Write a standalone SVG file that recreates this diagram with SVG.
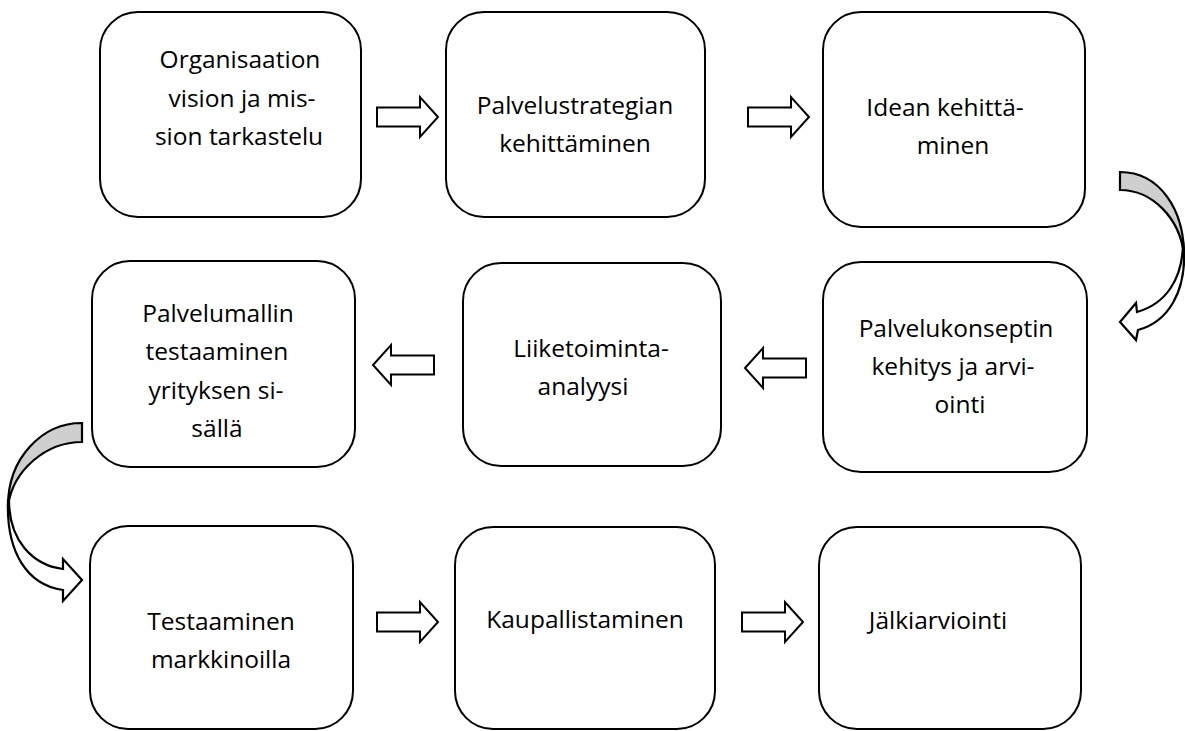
<svg xmlns="http://www.w3.org/2000/svg" xmlns:xlink="http://www.w3.org/1999/xlink" width="1185" height="731" viewBox="0 0 1185 731">
<style>
.box{fill:#fff;stroke:#000;stroke-width:2}
.t{font-family:"Open Sans","Liberation Sans",sans-serif;font-size:24.5px;fill:#000;text-anchor:middle}
.arr{fill:#fff;stroke:#000;stroke-width:2;stroke-linejoin:miter}
.cw{fill:#fff;stroke:#000;stroke-width:2.2;stroke-linejoin:miter}
.cg{fill:#cfcfcf;stroke:#000;stroke-width:2.2;stroke-linejoin:miter}
</style>
<defs>
<path id="ba" d="M0,-9.5 H43 V-20 L61,0 L43,20 V9.5 H0 Z"/>
</defs>
<rect width="1185" height="731" fill="#fff"/>
<g id="connectors">
<use xlink:href="#ba" class="arr" transform="translate(377,117)"/>
<use xlink:href="#ba" class="arr" transform="translate(748,117)"/>
<use xlink:href="#ba" class="arr" transform="translate(434,365) scale(-1,1)"/>
<use xlink:href="#ba" class="arr" transform="translate(806,368) scale(-1,1)"/>
<use xlink:href="#ba" class="arr" transform="translate(377,622)"/>
<use xlink:href="#ba" class="arr" transform="translate(742,622)"/>
<g id="curve-right">
<path class="cg" d="M1120,172 C1160,172 1184,210 1184,255 C1180,218 1152,190 1120,190 Z"/>
<path class="cw" d="M1183,242 C1183,280 1165,304 1137,312 L1136,303 L1120,322 L1136,340 L1138,330 C1168,322 1186,292 1184,250 Z"/>
</g>
<g id="curve-left">
<path class="cg" d="M82,423 C42,423 8,458 8,506 C13,470 46,442 82,442 Z"/>
<path class="cw" d="M9,500 C9,540 32,565 63,569 L63,559 L82,580 L63,601 L63,590 C27,585 6,552 8,500 Z"/>
</g>
</g>
<g id="n1"><rect class="box" x="100" y="12" width="261" height="205" rx="38"/>
<text class="t" x="240" y="68">Organisaation</text><text class="t" x="242" y="107">vision ja mis-</text><text class="t" x="239" y="145">sion tarkastelu</text></g>
<g id="n2"><rect class="box" x="446" y="12" width="259" height="205" rx="38"/>
<text class="t" x="575" y="114">Palvelustrategian</text><text class="t" x="575" y="152">kehittäminen</text></g>
<g id="n3"><rect class="box" x="823" y="12" width="262" height="215" rx="38"/>
<text class="t" x="945" y="116">Idean kehittä-</text><text class="t" x="953" y="154">minen</text></g>
<g id="n4"><rect class="box" x="92" y="261" width="263" height="206" rx="38"/>
<text class="t" x="218" y="322">Palvelumallin</text><text class="t" x="217" y="360">testaaminen</text><text class="t" x="216" y="399">yrityksen si-</text><text class="t" x="217" y="437">sällä</text></g>
<g id="n5"><rect class="box" x="463" y="263" width="258" height="203" rx="38"/>
<text class="t" x="591" y="357">Liiketoiminta-</text><text class="t" x="583" y="395">analyysi</text></g>
<g id="n6"><rect class="box" x="823" y="262" width="264" height="210" rx="38"/>
<text class="t" x="956" y="337">Palvelukonseptin</text><text class="t" x="953" y="375">kehitys ja arvi-</text><text class="t" x="960" y="413">ointi</text></g>
<g id="n7"><rect class="box" x="90" y="526" width="263" height="203" rx="38"/>
<text class="t" x="221" y="630">Testaaminen</text><text class="t" x="221" y="668">markkinoilla</text></g>
<g id="n8"><rect class="box" x="455" y="527" width="260" height="202" rx="38"/>
<text class="t" x="585" y="628">Kaupallistaminen</text></g>
<g id="n9"><rect class="box" x="819" y="527" width="262" height="202" rx="38"/>
<text class="t" x="938" y="629">Jälkiarviointi</text></g>
</svg>
